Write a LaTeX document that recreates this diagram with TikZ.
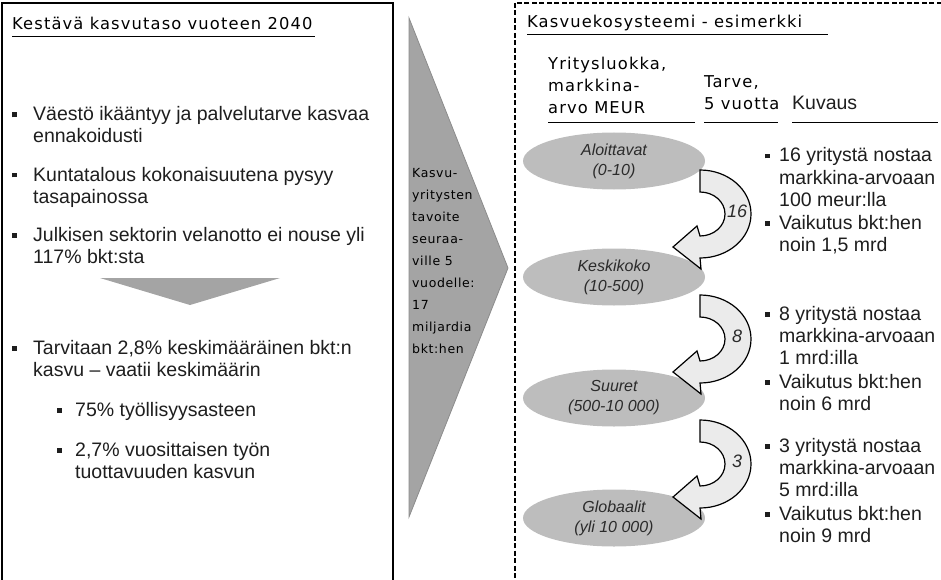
\documentclass[tikz,border=0pt]{standalone}
\usepackage{fontspec}
\setmainfont{Liberation Sans}
\newfontfamily\hdfont[LetterSpace=7]{DejaVu Sans}
\newfontfamily\midfont[LetterSpace=5]{DejaVu Sans}
\usetikzlibrary{shapes.geometric}
\definecolor{txt}{HTML}{1E1E1E}
\definecolor{ellgray}{HTML}{BDBDBD}
\definecolor{ellt}{HTML}{2B2B2B}
\definecolor{arrfill}{HTML}{EBEBEB}
\definecolor{trigray}{HTML}{A4A4A4}
\definecolor{triedge}{HTML}{8C8C8C}
\newcommand{\bsq}[1]{\llap{\rule[3.5pt]{5pt}{5pt}\hspace{#1}}}
\tikzset{
  body/.style={anchor=base west, inner sep=0pt, align=left, font=\fontsize{19.5}{22}\selectfont, text=txt},
  rbody/.style={anchor=base west, inner sep=0pt, align=left, font=\fontsize{19.5}{22}\selectfont, text=txt},
  hd/.style={anchor=base west, inner sep=0pt, align=left, font=\hdfont\fontsize{16.3}{22}\selectfont, text=black},
  midtxt/.style={anchor=base west, inner sep=0pt, align=left, font=\midfont\fontsize{12.5}{21.9}\selectfont, text=black},
  ell/.style={ellipse, fill=ellgray, minimum width=182pt, minimum height=57pt, inner sep=0pt, align=center, font=\itshape\fontsize{16}{20}\selectfont, text=ellt},
  ringarr/.style={fill=arrfill, draw=black, line width=1.2pt, line join=miter},
  num/.style={inner sep=0pt, font=\itshape\fontsize{18}{20}\selectfont, text=ellt},
  uline/.style={draw=black, line width=1pt}
}
\begin{document}
\begin{tikzpicture}[x=1pt,y=-1pt]
\useasboundingbox (0,0) rectangle (941,580);
\clip (0,0) rectangle (941,580);
% frames
\draw[line width=1.6pt] (2,3) rectangle (393,600);
\draw[line width=1.5pt, dash pattern=on 5pt off 2.5pt] (515,3) rectangle (960,600);
% left panel
\node[hd] (t1) at (12,30) {Kestävä kasvutaso vuoteen 2040};
\draw[uline] (12,37) -- (315,37);
\node[body] (b1) at (33,143) {\bsq{16pt}Väestö ikääntyy ja palvelutarve kasvaa\\ennakoidusti};
\node[body] (b2) at (33,203) {\bsq{16pt}Kuntatalous kokonaisuutena pysyy\\tasapainossa};
\node[body] (b3) at (33,263) {\bsq{16pt}Julkisen sektorin velanotto ei nouse yli\\117\% bkt:sta};
\fill[trigray] (100,278) -- (280,278) -- (190,305) -- cycle;
\node[body] (b4) at (33,376) {\bsq{16pt}Tarvitaan 2,8\% keskimääräinen bkt:n\\kasvu – vaatii keskimäärin};
\node[body] (b5) at (75,416) {\bsq{13pt}75\% työllisyysasteen};
\node[body] (b6) at (75,478) {\bsq{13pt}2,7\% vuosittaisen työn\\tuottavuuden kasvun};
% middle arrow
\filldraw[fill=trigray, draw=triedge, line width=0.8pt] (409,18) -- (508,268) -- (409,517) -- cycle;
\node[midtxt] (m) at (412,353) {Kasvu-\\yritysten\\tavoite\\seuraa-\\ville 5\\vuodelle:\\17\\miljardia\\bkt:hen};
% right panel
\node[hd] (t2) at (527,28) {Kasvuekosysteemi - esimerkki};
\draw[uline] (527,35) -- (828,35);
\node[hd] (h1) at (548,114) {Yritysluokka,\\markkina-\\arvo MEUR};
\node[hd] (h2) at (704,110) {Tarve,\\5 vuotta};
\node[rbody] (h3) at (792,110) {Kuvaus};
\draw[uline] (548,123) -- (695,123);
\draw[uline] (704,123) -- (778,123);
\draw[uline] (792,123) -- (938,123);
% ellipses
\node[ell] (e1) at (614,161) {Aloittavat\\(0-10)};
\node[ell] (e2) at (614,277) {Keskikoko\\(10-500)};
\node[ell] (e3) at (614,398) {Suuret\\(500-10 000)};
\node[ell] (e4) at (614,518) {Globaalit\\(yli 10 000)};
% ring arrows
\foreach \cy/\lab/\nm in {214/16/n1, 339/8/n2, 464/3/n3}{
  \begin{scope}[shift={(700,\cy)}]
    \draw[ringarr] (0,-44) arc[start angle=90, end angle=-90, x radius=51pt, y radius=44pt]
      -- (1,55) -- (-27,33) -- (-3,12) -- (0,22)
      arc[start angle=-90, end angle=90, x radius=25pt, y radius=22pt] -- cycle;
    \node[num] (\nm) at (37,-3) {\lab};
  \end{scope}
}
% right bullets
\node[rbody] (r1) at (779,206) {\bsq{9pt}16 yritystä nostaa\\markkina-arvoaan\\100 meur:lla};
\node[rbody] (r2) at (779,251) {\bsq{9pt}Vaikutus bkt:hen\\noin 1,5 mrd};
\node[rbody] (r3) at (779,364) {\bsq{9pt}8 yritystä nostaa\\markkina-arvoaan\\1 mrd:illa};
\node[rbody] (r4) at (779,410) {\bsq{9pt}Vaikutus bkt:hen\\noin 6 mrd};
\node[rbody] (r5) at (779,496) {\bsq{9pt}3 yritystä nostaa\\markkina-arvoaan\\5 mrd:illa};
\node[rbody] (r6) at (779,542) {\bsq{9pt}Vaikutus bkt:hen\\noin 9 mrd};
\end{tikzpicture}
\end{document}
